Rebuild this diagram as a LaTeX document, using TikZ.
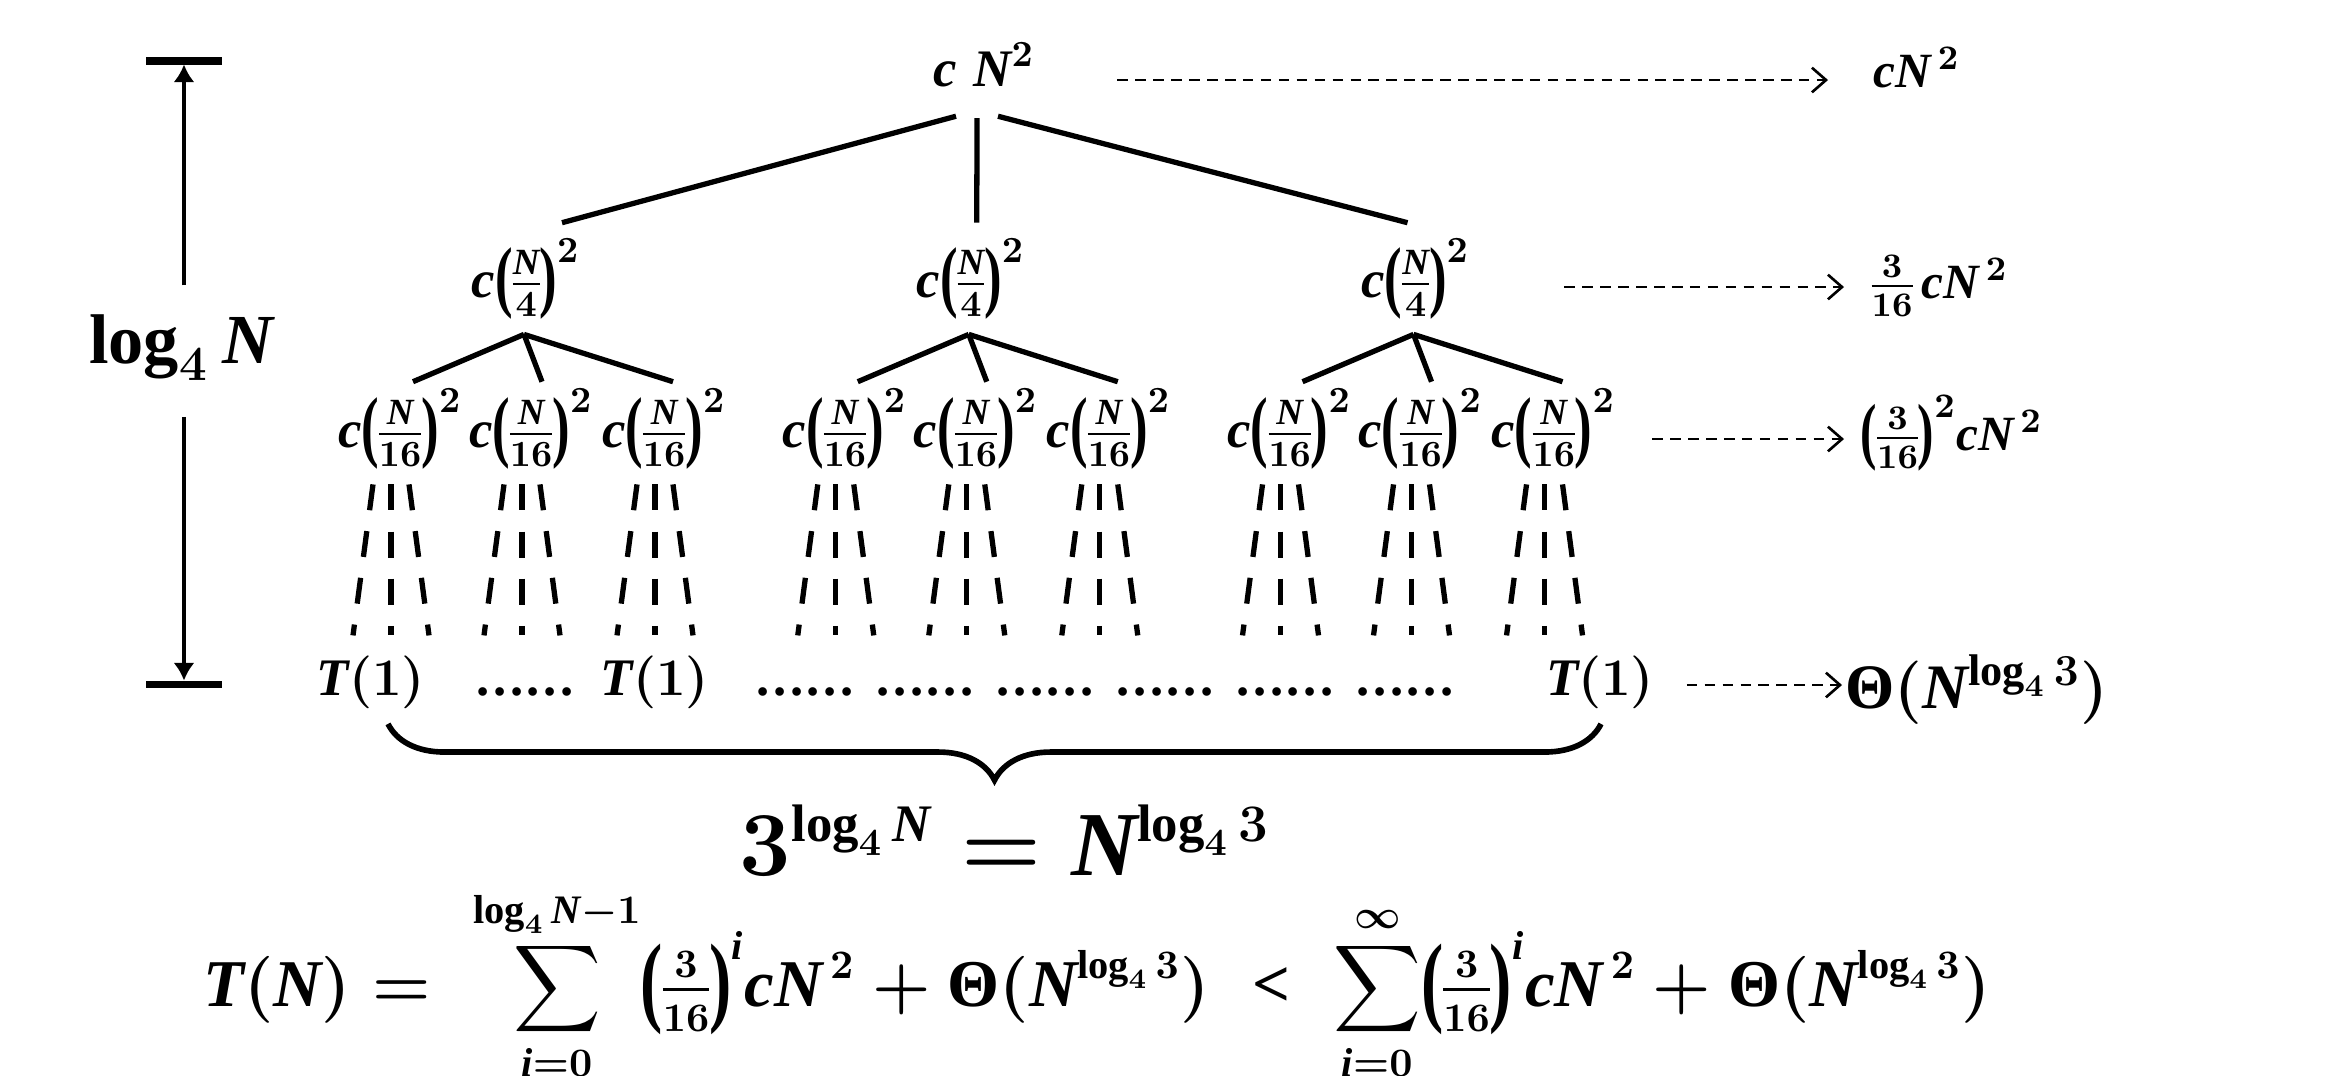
\RequirePackage{fix-cm}
\documentclass[tikz,border=0pt]{standalone}
\usepackage{amsmath}
\usepackage{graphicx}
\usepackage{fontspec}
\setmainfont{Liberation Serif}
\newfontfamily\tnr{Liberation Serif}[NFSSFamily=tnr]
\DeclareSymbolFont{operators}{TU}{tnr}{m}{n}
\SetSymbolFont{operators}{bold}{TU}{tnr}{b}{n}
\DeclareSymbolFont{letters}{TU}{tnr}{m}{it}
\SetSymbolFont{letters}{bold}{TU}{tnr}{b}{it}
\DeclareMathSizes{26}{26}{15}{11}
\DeclareMathSizes{19}{19}{11.5}{8}
\newcommand\Th{\text{\bfseries Θ}}
\newcommand\lpar{\mathopen{\vcenter{\hbox{\scalebox{1}[1.5]{(}}}}}
\newcommand\rpar{\mathclose{\vcenter{\hbox{\scalebox{1}[1.5]{)}}}}}
\newcommand\sixdots{.\kern1pt.\kern1pt.\kern1pt.\kern1pt.\kern1pt.}
\newcommand\lowlim{\raisebox{1.5pt}[\height][\depth]{$\scriptstyle i=0$}}
\nulldelimiterspace=0pt
\usetikzlibrary{calc,arrows.meta,decorations.pathreplacing}

\begin{document}
\begin{tikzpicture}[x=0.01cm,y=-0.01cm,
  term/.style={anchor=base,inner sep=0pt,font=\fontsize{15}{18}\selectfont\bfseries\boldmath},
  sideterm/.style={anchor=base west,inner sep=0pt,font=\fontsize{14}{17}\selectfont\bfseries\boldmath},
  edge/.style={draw,line width=1.5pt},
  fade/.style={draw,line width=1.5pt,dash pattern=on 7.4pt off 6pt},
  level arrow/.style={draw,line width=0.75pt,dash pattern=on 3pt off 2.1pt,-{Straight Barb[length=4pt,width=7pt]}}]
\useasboundingbox (0,0) rectangle (2328,1075);
% a c(N/16)^2 term with its three dashed lines
\newcommand\leaf[2]{
\node[term] (#1) at (#2,447) {$c\lpar\frac{N}{16}\rpar^{2}$};
\coordinate (#1l) at ($(#1.south)+(-47,165)$);
\coordinate (#1m) at ($(#1.south)+(-9,165)$);
\coordinate (#1r) at ($(#1.south)+(29,165)$);
\path[fade] ($(#1.south)+(-27,14)$) -- (#1l);
\path[fade] ($(#1.south)+(-9,14)$) -- (#1m);
\path[fade] ($(#1.south)+(9,14)$) -- (#1r);
}
% one c(N/4)^2 term and its three children
\newcommand\subtree[1]{
\node[term] (p#1) at (526,297) {$c\lpar\frac{N}{4}\rpar^{2}$};
\leaf{a#1}{400}
\leaf{b#1}{531}
\leaf{c#1}{664}
\path[edge] ($(p#1.south)+(-2,14)$) -- ($(a#1.north)+(13,-6)$);
\path[edge] ($(p#1.south)+(-2,14)$) -- ($(b#1.north)+(11,-6)$);
\path[edge] ($(p#1.south)+(-2,14)$) -- ($(c#1.north)+(9,-6)$);
}
\node[term] (root) at (984,86) {$c\;N^{2}$};
\begin{scope}
\subtree{1}
\end{scope}
\begin{scope}[xshift=4.445cm]
\subtree{2}
\end{scope}
\begin{scope}[xshift=8.89cm]
\subtree{3}
\end{scope}
\path[edge] ($(root.south)+(-28,29)$) -- ($(p1.north)+(36,-15)$);
\path[edge] ($(root.south)+(-7,31)$) -- ($(p2.north)+(6,-15)$);
\path[edge] ($(root.south)+(14,29)$) -- ($(p3.north)+(-8,-15)$);
% leaves
\node[term] (t1) at (371,695) {$T(1)$};
\node[term] (d1) at (525,695) {\sixdots};
\node[term] (t2) at (655,695) {$T(1)$};
\foreach \k in {0,...,5}
  \node[term] (g\k) at (805+120*\k,695) {\sixdots};
\node[term] (t3) at (1600,695) {$T(1)$};
\path[draw,line width=1.6pt,decorate,decoration={brace,mirror,amplitude=16pt}]
  ($(t1.south)+(17,15)$) -- ($(t3.south)+(1,15)$);
\node[term,font=\fontsize{26}{31}\selectfont\bfseries\boldmath] (count) at (1005,875)
  {$3^{\log_4 N} = N^{\log_4 3}$};
\node[term,font=\fontsize{19}{23}\selectfont\bfseries\boldmath] (total) at (1097,1006)
  {$\displaystyle T(N) =\; \sum_{\lowlim}^{\log_4 N-1}\lpar\tfrac{3}{16}\rpar^{i}cN^{\,2}+\Th(N^{\log_4 3}) \;<\; \sum_{\lowlim}^{\infty}\lpar\tfrac{3}{16}\rpar^{i}cN^{\,2}+\Th(N^{\log_4 3})$};
% height of the tree
\coordinate (top) at (184,61);
\coordinate (bot) at (184,684);
\node[term,font=\fontsize{20}{24}\selectfont\bfseries\boldmath] (depth) at (181,363) {$\log_4 N$};
\path[draw,line width=2pt] ($(top)+(-38,0)$) -- ($(top)+(38,0)$);
\path[draw,line width=2pt] ($(bot)+(-38,0)$) -- ($(bot)+(38,0)$);
\path[draw,line width=1.3pt,-{Latex[length=5pt,width=6pt]},shorten <=8pt,shorten >=1pt] (depth.north -| top) -- (top);
\path[draw,line width=1.3pt,-{Latex[length=5pt,width=6pt]},shorten <=10pt,shorten >=1pt] (depth.south -| bot) -- (bot);
% cost of each level
\node[sideterm] (s0) at (1873,87) {$cN^{\,2}$};
\node[sideterm] (s1) at (1871,298) {$\frac{3}{16}\,cN^{\,2}$};
\node[sideterm] (s2) at (1860,450) {$\lpar\frac{3}{16}\rpar^{2}cN^{\,2}$};
\node[sideterm,font=\fontsize{18}{22}\selectfont\bfseries\boldmath] (s3) at (1845,708) {$\Th(N^{\log_4 3})$};
\path[level arrow] ($(root.base east)+(82,-6)$) -- ($(s0.base west)+(-45,-7)$);
\path[level arrow] ($(p3.base east)+(94,-10)$) -- ($(s1.base west)+(-27,-11)$);
\path[level arrow] ($(c3.base east)+(36,-8)$) -- ($(s2.base west)+(-16,-11)$);
\path[level arrow] ($(t3.base east)+(32,-10)$) -- ($(s3.base west)+(-3,-23)$);
\end{tikzpicture}
\end{document}
